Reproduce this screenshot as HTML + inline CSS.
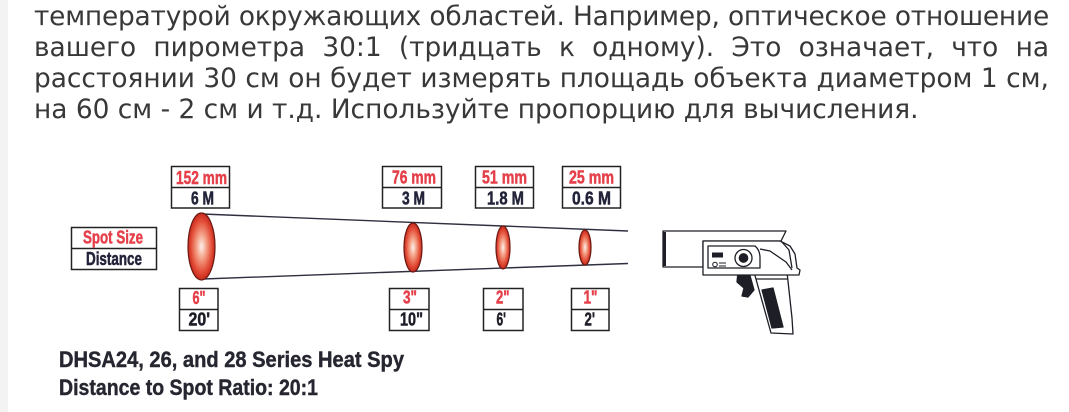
<!DOCTYPE html>
<html>
<head>
<meta charset="utf-8">
<style>
  html,body{margin:0;padding:0;background:#fff;}
  body{width:1069px;height:412px;position:relative;overflow:hidden;}
  .strip{position:absolute;left:0;top:0;width:8px;height:412px;background:#f3f3f3;}
  .para{position:absolute;left:34px;top:1px;width:1015px;
    font-family:"DejaVu Sans","Liberation Sans",sans-serif;font-size:26.4px;line-height:31px;color:#383838;}
  .para div{white-space:nowrap;height:31px;}
  .j{display:flex;justify-content:space-between;}
  .t{letter-spacing:-0.2px;}
  svg{position:absolute;left:0;top:0;}
</style>
</head>
<body>
<div class="strip"></div>
<div class="para">
  <div class="j t"><span>температурой</span><span>окружающих</span><span>областей.</span><span>Например,</span><span>оптическое</span><span>отношение</span></div>
  <div class="j"><span>вашего</span><span>пирометра</span><span>30:1</span><span>(тридцать</span><span>к</span><span>одному).</span><span>Это</span><span>означает,</span><span>что</span><span>на</span></div>
  <div class="j"><span>расстоянии</span><span>30</span><span>см</span><span>он</span><span>будет</span><span>измерять</span><span>площадь</span><span>объекта</span><span>диаметром</span><span>1</span><span>см,</span></div>
  <div>на 60 см - 2 см и т.д. Используйте пропорцию для вычисления.</div>
</div>
<svg width="1069" height="412" viewBox="0 0 1069 412" xmlns="http://www.w3.org/2000/svg">
  <defs>
    <radialGradient id="rg" cx="0.5" cy="0.5" r="0.5">
      <stop offset="0" stop-color="#fdf0ec"/>
      <stop offset="0.35" stop-color="#f5a58c"/>
      <stop offset="0.75" stop-color="#e4503a"/>
      <stop offset="1" stop-color="#c8281c"/>
    </radialGradient>
  </defs>
  <g font-family="'Liberation Sans',Arial,sans-serif" font-weight="bold" font-size="18.5" stroke-width="0.5">
    <!-- cone lines -->
    <line x1="202" y1="214" x2="628" y2="231" stroke="#2e3040" stroke-width="1.4"/>
    <line x1="203" y1="279" x2="628" y2="263.5" stroke="#2e3040" stroke-width="1.4"/>
    <!-- ellipses -->
    <ellipse cx="201.5" cy="246.5" rx="13.5" ry="33.5" fill="url(#rg)" stroke="#6a1a12" stroke-width="1.2"/>
    <ellipse cx="413" cy="247.5" rx="9" ry="24.5" fill="url(#rg)" stroke="#6a1a12" stroke-width="1.2"/>
    <ellipse cx="503" cy="247.5" rx="7" ry="21.5" fill="url(#rg)" stroke="#6a1a12" stroke-width="1.2"/>
    <ellipse cx="585" cy="247.5" rx="6" ry="17.5" fill="url(#rg)" stroke="#6a1a12" stroke-width="1.2"/>

    <!-- legend box -->
    <rect x="71.5" y="227.5" width="85" height="42" fill="#fff" stroke="#222" stroke-width="1.5"/>
    <line x1="71.5" y1="248.5" x2="156.5" y2="248.5" stroke="#222" stroke-width="1.5"/>
    <text x="83" y="243.5" fill="#e5404a" stroke="#e5404a" textLength="60" lengthAdjust="spacingAndGlyphs">Spot Size</text>
    <text x="86" y="265" fill="#23233a" stroke="#23233a" textLength="56" lengthAdjust="spacingAndGlyphs">Distance</text>

    <!-- top boxes -->
    <g stroke="#222" stroke-width="1.5" fill="#fff">
      <rect x="171.5" y="166.5" width="58" height="41.5"/>
      <rect x="382.5" y="166.5" width="59" height="41.5"/>
      <rect x="475.5" y="166.5" width="58" height="41.5"/>
      <rect x="562.5" y="166.5" width="58" height="41.5"/>
      <line x1="171.5" y1="187.5" x2="229.5" y2="187.5"/>
      <line x1="382.5" y1="187.5" x2="441.5" y2="187.5"/>
      <line x1="475.5" y1="187.5" x2="533.5" y2="187.5"/>
      <line x1="562.5" y1="187.5" x2="620.5" y2="187.5"/>
    </g>
    <g fill="#e5404a" stroke="#e5404a">
      <text x="176" y="184" textLength="51" lengthAdjust="spacingAndGlyphs">152 mm</text>
      <text x="392" y="183.5" textLength="44" lengthAdjust="spacingAndGlyphs">76 mm</text>
      <text x="482" y="183.5" textLength="45" lengthAdjust="spacingAndGlyphs">51 mm</text>
      <text x="569" y="183.5" textLength="45" lengthAdjust="spacingAndGlyphs">25 mm</text>
    </g>
    <g fill="#23233a" stroke="#23233a">
      <text x="191" y="204.5" textLength="23" lengthAdjust="spacingAndGlyphs">6 M</text>
      <text x="402" y="204.5" textLength="23" lengthAdjust="spacingAndGlyphs">3 M</text>
      <text x="487" y="204.5" textLength="37" lengthAdjust="spacingAndGlyphs">1.8 M</text>
      <text x="572" y="204.5" textLength="39" lengthAdjust="spacingAndGlyphs">0.6 M</text>
    </g>

    <!-- bottom boxes -->
    <g stroke="#222" stroke-width="1.5" fill="#fff">
      <rect x="179.5" y="288.5" width="38.5" height="42"/>
      <rect x="389.5" y="288.5" width="39.5" height="42"/>
      <rect x="483.5" y="288.5" width="39.5" height="42"/>
      <rect x="571.5" y="288.5" width="37.5" height="42"/>
      <line x1="179.5" y1="309.5" x2="218" y2="309.5"/>
      <line x1="389.5" y1="309.5" x2="429" y2="309.5"/>
      <line x1="483.5" y1="309.5" x2="523" y2="309.5"/>
      <line x1="571.5" y1="309.5" x2="609" y2="309.5"/>
    </g>
    <g fill="#e5404a" stroke="#e5404a">
      <text x="192.5" y="304" textLength="13" lengthAdjust="spacingAndGlyphs">6"</text>
      <text x="403" y="303.5" textLength="14" lengthAdjust="spacingAndGlyphs">3"</text>
      <text x="496" y="303.5" textLength="13.5" lengthAdjust="spacingAndGlyphs">2"</text>
      <text x="583.5" y="303.5" textLength="14" lengthAdjust="spacingAndGlyphs">1"</text>
    </g>
    <g fill="#1e1e28" stroke="#1e1e28">
      <text x="188.5" y="325.5" textLength="21.5" lengthAdjust="spacingAndGlyphs">20'</text>
      <text x="400" y="325.5" textLength="23" lengthAdjust="spacingAndGlyphs">10"</text>
      <text x="496.5" y="325.5" textLength="9.5" lengthAdjust="spacingAndGlyphs">6'</text>
      <text x="584.5" y="325.5" textLength="10.5" lengthAdjust="spacingAndGlyphs">2'</text>
    </g>

    <!-- caption -->
    <text x="59" y="367" font-size="22" fill="#262630" stroke="#262630" stroke-width="0.4" textLength="345" lengthAdjust="spacingAndGlyphs">DHSA24, 26, and 28 Series Heat Spy</text>
    <text x="59" y="395" font-size="22" fill="#262630" stroke="#262630" stroke-width="0.4" textLength="259" lengthAdjust="spacingAndGlyphs">Distance to Spot Ratio: 20:1</text>
  </g>

  <!-- pyrometer gun -->
  <g stroke="#1e1e26" stroke-width="1.3" fill="#fff" stroke-linejoin="round">
    <!-- barrel -->
    <path d="M663,231 L786,231 L781,241 L703,241 L703,267 L663,267 Z"/>
    <rect x="662.5" y="232" width="3.5" height="34" fill="#1e1e26" stroke="none"/>
    <!-- grip -->
    <path d="M754,272 L771,333 L793,334 L792,318 L787,272 Z"/>
    <path d="M762,290 L773,288 L783,327 L772,328 Z" fill="#1e1e26"/>
    <line x1="756" y1="279" x2="788" y2="279"/>
    <!-- trigger -->
    <path d="M738,272 L749,272 L754,290 L748,297 L742,296 L744,288 L737,282 Z" fill="#1e1e26"/>
    <!-- body -->
    <path d="M703,241 L780,241 L790,246 L795,254 L797,268 L800,270 L799,275 L703,275 Z"/>
    <path d="M781,241 L789,250 L792,268"/>
    <path d="M708,246 L755,246 Q760,250 760,258 L760,268 L708,268 Z"/>
    <path d="M760,249 L770,251 L786,262 L792,270" fill="none"/>
    <circle cx="743.5" cy="258" r="8.5"/>
    <circle cx="743.5" cy="258" r="4.2" fill="#1e1e26"/>
    <rect x="712" y="252.5" width="11" height="5" fill="#1e1e26" stroke="none"/>
    <circle cx="715" cy="264.5" r="2.3" stroke-width="1"/>
    <line x1="719" y1="263" x2="726" y2="263" stroke-width="1"/>
    <line x1="719" y1="266" x2="726" y2="266" stroke-width="1"/>
  </g>
</svg>
</body>
</html>
